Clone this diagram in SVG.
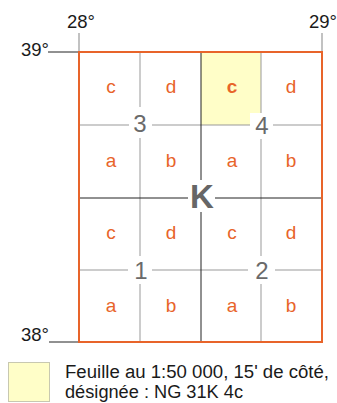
<svg xmlns="http://www.w3.org/2000/svg" width="337" height="403" viewBox="0 0 337 403">
<style>
.lbl{font-family:"Liberation Sans",Arial,sans-serif;font-size:18.5px;fill:#1a1a1a}
.leg{font-family:"Liberation Sans",Arial,sans-serif;font-size:18px;fill:#1a1a1a}
.let{font-family:"Liberation Sans",Arial,sans-serif;font-size:19px;fill:#e8642a;text-anchor:middle}
.num{font-family:"Liberation Sans",Arial,sans-serif;font-size:24px;fill:#6a6a6a;text-anchor:middle}
.thin{stroke:#999;stroke-width:1;fill:none}
.blk{stroke:#222;stroke-width:1;fill:none}
.gap{fill:#fff}
</style>
<rect width="337" height="403" fill="#fff"/>
<g id="highlight"><rect x="201" y="52" width="60" height="73" fill="#fffec8"/></g>
<g id="connectors">
<line class="thin" x1="140" y1="52" x2="140" y2="342"/>
<line class="thin" x1="261" y1="52" x2="261" y2="342"/>
<line class="thin" x1="79" y1="125" x2="322" y2="125"/>
<line class="thin" x1="79" y1="270" x2="322" y2="270"/>
<line class="blk" x1="201" y1="52" x2="201" y2="342"/>
<line class="blk" x1="79" y1="198" x2="322" y2="198"/>
<line stroke="#999" stroke-width="1.2" x1="79" y1="33" x2="79" y2="52"/>
<line stroke="#999" stroke-width="1.2" x1="322" y1="33" x2="322" y2="52"/>
<line stroke="#222" stroke-width="1" x1="48" y1="52" x2="79" y2="52"/>
<line stroke="#222" stroke-width="1" x1="49" y1="342" x2="79" y2="342"/>
</g>
<g id="gaps">
<rect class="gap" x="129" y="107" width="23" height="31"/>
<rect class="gap" x="250" y="113" width="23" height="26"/>
<rect class="gap" x="128" y="256" width="24" height="28"/>
<rect class="gap" x="248" y="256" width="27" height="28"/>
<rect class="gap" x="188" y="180" width="27" height="32"/>
</g>
<g id="frame"><rect x="79" y="52" width="243" height="290" fill="none" stroke="#e8642a" stroke-width="2"/></g>
<g id="sheet-3">
<text class="let" x="111" y="93">c</text><text class="let" x="171" y="93">d</text>
<text class="let" x="111" y="167">a</text><text class="let" x="171" y="167">b</text>
<text class="num" x="140" y="132">3</text>
</g>
<g id="sheet-4">
<text class="let" x="232" y="93" font-weight="bold">c</text><text class="let" x="291" y="93">d</text>
<text class="let" x="232" y="167">a</text><text class="let" x="291" y="167">b</text>
<text class="num" x="262" y="134">4</text>
</g>
<g id="sheet-1">
<text class="let" x="111" y="239">c</text><text class="let" x="171" y="239">d</text>
<text class="let" x="111" y="311.5">a</text><text class="let" x="171" y="311.5">b</text>
<text class="num" x="141" y="279">1</text>
</g>
<g id="sheet-2">
<text class="let" x="232" y="239">c</text><text class="let" x="291" y="239">d</text>
<text class="let" x="232" y="311.5">a</text><text class="let" x="291" y="311.5">b</text>
<text class="num" x="262" y="279">2</text>
</g>
<g id="K"><text x="202" y="208" font-family="'Liberation Sans',Arial,sans-serif" font-size="33" font-weight="bold" fill="#666" text-anchor="middle">K</text></g>
<g id="coords">
<text class="lbl" x="67" y="28">28°</text>
<text class="lbl" x="309" y="28">29°</text>
<text class="lbl" x="21" y="56">39°</text>
<text class="lbl" x="21" y="341">38°</text>
</g>
<g id="legend">
<rect x="8.5" y="362.5" width="41" height="39" fill="#fffec8" stroke="#c8c8b0" stroke-width="1"/>
<text class="leg" x="65" y="378" textLength="264" lengthAdjust="spacingAndGlyphs">Feuille au 1:50 000, 15' de côté,</text>
<text class="leg" x="65" y="397.5" textLength="178" lengthAdjust="spacingAndGlyphs">désignée : NG 31K 4c</text>
</g>
</svg>
